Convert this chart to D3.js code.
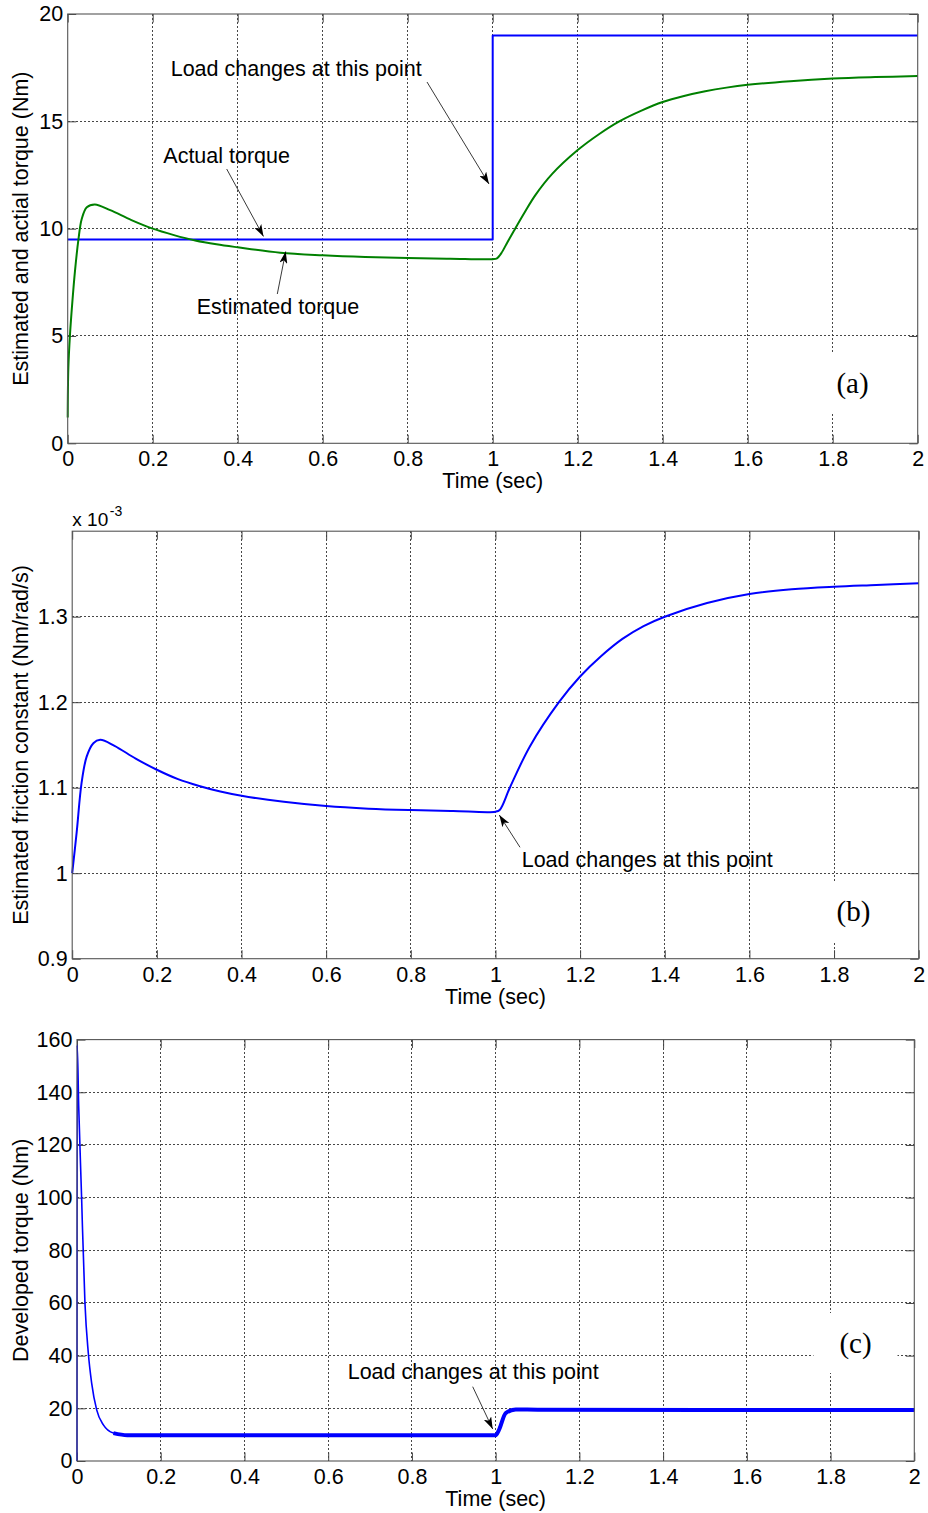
<!DOCTYPE html>
<html>
<head>
<meta charset="utf-8">
<script src="https://cdn.jsdelivr.net/npm/d3@7"></script>
<style>
  html, body { margin: 0; padding: 0; background: #fff; }
  svg { display: block; }
  text { font-family: "Liberation Sans", Arial, sans-serif; fill: #000; }
</style>
</head>
<body>
<svg id="chart" width="928" height="1513"></svg>
<script>
// ---------------- DATA ----------------
const timeTicks = [0, 0.2, 0.4, 0.6, 0.8, 1, 1.2, 1.4, 1.6, 1.8, 2];
const timeTickLabels = ["0", "0.2", "0.4", "0.6", "0.8", "1", "1.2", "1.4", "1.6", "1.8", "2"];

// Panel (a): actual (load) torque and estimated torque, Nm
const actualTime   = [0, 1, 1, 2];
const actualTorque = [9.5, 9.5, 19, 19];
const estTime   = [0, 0.0015, 0.0055, 0.011, 0.017, 0.025, 0.033, 0.045, 0.064, 0.1, 0.15, 0.2, 0.25, 0.3, 0.35, 0.4, 0.5, 0.6, 0.7, 0.8, 0.9, 1.0, 1.01, 1.02, 1.035, 1.05, 1.075, 1.1, 1.14, 1.2, 1.25, 1.3, 1.35, 1.4, 1.45, 1.5, 1.55, 1.6, 1.7, 1.8, 1.9, 2.0];
const estTorque = [1.2, 3.5, 5.1, 6.6, 8.0, 9.45, 10.45, 11.0, 11.13, 10.86, 10.4, 10.0, 9.7, 9.45, 9.27, 9.13, 8.88, 8.76, 8.68, 8.63, 8.6, 8.58, 8.62, 8.85, 9.38, 9.9, 10.75, 11.55, 12.55, 13.66, 14.40, 15.02, 15.50, 15.90, 16.18, 16.40, 16.57, 16.70, 16.87, 16.99, 17.06, 17.11];
const aYTicks = [0, 5, 10, 15, 20];
const aYTickLabels = ["0", "5", "10", "15", "20"];

// Panel (b): estimated friction constant (x 10^-3 Nm/rad/s)
const fricTime  = [0, 0.0106, 0.022, 0.034, 0.05, 0.066, 0.1, 0.15, 0.2, 0.25, 0.3, 0.35, 0.4, 0.5, 0.6, 0.7, 0.8, 0.9, 1.0, 1.01, 1.034, 1.081, 1.15, 1.2, 1.25, 1.3, 1.35, 1.4, 1.5, 1.6, 1.7, 1.8, 1.9, 2.0];
const fricValue = [1.0, 1.048, 1.105, 1.136, 1.152, 1.156, 1.149, 1.134, 1.121, 1.110, 1.102, 1.0955, 1.0905, 1.0835, 1.0785, 1.0755, 1.0738, 1.0727, 1.0719, 1.074, 1.1, 1.148, 1.2, 1.23, 1.254, 1.274, 1.289, 1.30, 1.316, 1.3265, 1.332, 1.335, 1.337, 1.339];
const bYTicks = [0.9, 1.0, 1.1, 1.2, 1.3];
const bYTickLabels = ["0.9", "1", "1.1", "1.2", "1.3"];

// Panel (c): developed torque, Nm
const devTime   = [0, 0.0005, 0.004, 0.011, 0.013, 0.019, 0.027, 0.035, 0.047, 0.063, 0.087, 0.12, 0.2, 0.5, 0.8, 1.0, 1.008, 1.024, 1.048, 1.1, 1.5, 2.0];
const devTorque = [0, 158, 135, 100, 89, 60, 41, 29.6, 19.4, 13.7, 10.6, 9.8, 9.8, 9.8, 9.8, 9.8, 11.8, 18.2, 19.6, 19.5, 19.4, 19.4];
const cYTicks = [0, 20, 40, 60, 80, 100, 120, 140, 160];
const cYTickLabels = ["0", "20", "40", "60", "80", "100", "120", "140", "160"];

const annotationText = "Load changes at this point";

// ---------------- DRAWING ----------------
const svg = d3.select("#chart");
const FS = 21.5;
const smooth = d3.curveCatmullRom.alpha(0.5);

const defs = svg.append("defs");
defs.append("marker")
  .attr("id", "arrowHead")
  .attr("markerUnits", "userSpaceOnUse")
  .attr("markerWidth", 12).attr("markerHeight", 8)
  .attr("refX", 12).attr("refY", 4)
  .attr("orient", "auto")
  .append("path")
  .attr("d", "M0,0 L12,4 L0,8 L3,4 Z")
  .attr("fill", "#000");

function zip(xs, ys) { return xs.map((t, i) => ({ t: t, v: ys[i] })); }

function drawPanel(p) {
  const g = svg.append("g");
  const x = d3.scaleLinear().domain(p.xDomain).range([p.left, p.right]);
  const y = d3.scaleLinear().domain(p.yDomain).range([p.bottom, p.top]);
  const clipId = "clip" + p.id;
  defs.append("clipPath").attr("id", clipId).append("rect")
    .attr("x", p.left - 2).attr("y", p.top - 2)
    .attr("width", p.right - p.left + 4).attr("height", p.bottom - p.top + 4);

  // grid
  const grid = g.append("g").attr("stroke", "#333").attr("stroke-width", 0.9)
    .attr("stroke-dasharray", "2,2").attr("shape-rendering", "crispEdges");
  grid.selectAll(".gx").data(p.xTicks.filter(d => d > p.xDomain[0] && d < p.xDomain[1]))
    .join("line").attr("x1", d => x(d)).attr("x2", d => x(d))
    .attr("y1", p.top).attr("y2", p.bottom);
  grid.selectAll(".gy").data(p.yTicks.filter(d => d > p.yDomain[0] && d < p.yDomain[1]))
    .join("line").attr("y1", d => y(d)).attr("y2", d => y(d))
    .attr("x1", p.left).attr("x2", p.right);

  // axes (ticks inward on all sides)
  const tk = 8.5;
  const fmtX = d => p.xTickLabels[p.xTicks.indexOf(d)];
  const fmtY = d => p.yTickLabels[p.yTicks.indexOf(d)];
  const axB = g.append("g").attr("transform", `translate(0,${p.bottom})`)
    .call(d3.axisBottom(x).tickValues(p.xTicks).tickFormat(fmtX).tickSizeInner(-tk).tickSizeOuter(0).tickPadding(7.7));
  const axT = g.append("g").attr("transform", `translate(0,${p.top})`)
    .call(d3.axisTop(x).tickValues(p.xTicks).tickFormat("").tickSizeInner(-tk).tickSizeOuter(0));
  const axL = g.append("g").attr("transform", `translate(${p.left},0)`)
    .call(d3.axisLeft(y).tickValues(p.yTicks).tickFormat(fmtY).tickSizeInner(-tk).tickSizeOuter(0).tickPadding(4.6));
  const axR = g.append("g").attr("transform", `translate(${p.right},0)`)
    .call(d3.axisRight(y).tickValues(p.yTicks).tickFormat("").tickSizeInner(-tk).tickSizeOuter(0));
  [axB, axT, axL, axR].forEach(a => {
    a.select(".domain").remove();
    a.selectAll("line").attr("stroke", "#444");
    a.selectAll("text").attr("font-size", FS).attr("font-family", "Liberation Sans, Arial, sans-serif").attr("fill", "#000");
  });

  // white panel-label box
  g.append("rect")
    .attr("x", p.labelX - 42).attr("y", p.labelY - 30)
    .attr("width", 84).attr("height", 60).attr("fill", "#fff");

  // data
  const dg = g.append("g").attr("clip-path", `url(#${clipId})`);
  p.series.forEach(s => {
    const data = zip(s.t, s.v).filter(s.filter || (() => true));
    dg.append("path").datum(data)
      .attr("fill", "none").attr("stroke", s.color)
      .attr("stroke-width", s.width).attr("stroke-linejoin", "round")
      .attr("d", d3.line().x(d => x(d.t)).y(d => y(d.v)).curve(s.curve || smooth));
  });

  // box
  g.append("rect").attr("x", p.left).attr("y", p.top)
    .attr("width", p.right - p.left).attr("height", p.bottom - p.top)
    .attr("fill", "none").attr("stroke", "#555").attr("stroke-width", 1.1);

  // panel label
  g.append("text").attr("x", p.labelX).attr("y", p.labelY + 10)
    .attr("text-anchor", "middle").attr("font-size", 29)
    .style("font-family", "'Liberation Serif', 'Times New Roman', serif")
    .text(p.label);

  // axis titles
  g.append("text").attr("x", (p.left + p.right) / 2).attr("y", p.bottom + 45)
    .attr("text-anchor", "middle").attr("font-size", FS).text("Time (sec)");
  g.append("text")
    .attr("transform", `translate(28,${(p.top + p.bottom) / 2}) rotate(-90)`)
    .attr("text-anchor", "middle").attr("font-size", FS).text(p.yTitle);

  // annotations
  p.notes.forEach(n => {
    g.append("text").attr("x", n.tx).attr("y", n.ty).attr("font-size", FS).text(n.text);
    g.append("line").attr("x1", n.x1).attr("y1", n.y1).attr("x2", n.x2).attr("y2", n.y2)
      .attr("stroke", "#222").attr("stroke-width", 0.9).attr("marker-end", "url(#arrowHead)");
  });
  return { g, x, y };
}

// Panel (a)
drawPanel({
  id: "a", left: 67.7, right: 917.7, top: 14, bottom: 443.3,
  xDomain: [0, 2], yDomain: [0, 20],
  xTicks: timeTicks, xTickLabels: timeTickLabels,
  yTicks: aYTicks, yTickLabels: aYTickLabels,
  yTitle: "Estimated and actial torque (Nm)",
  label: "(a)", labelX: 852.5, labelY: 383,
  series: [
    { t: actualTime, v: actualTorque, color: "#0000ff", width: 2, curve: d3.curveLinear },
    { t: estTime, v: estTorque, color: "#008000", width: 2 }
  ],
  notes: [
    { text: annotationText, tx: 170.7, ty: 76, x1: 427, y1: 82, x2: 489, y2: 184 },
    { text: "Actual torque", tx: 163.3, ty: 163.3, x1: 226.7, y1: 169, x2: 263.5, y2: 236.5 },
    { text: "Estimated torque", tx: 196.7, ty: 314.3, x1: 277.3, y1: 294, x2: 285.7, y2: 251.5 }
  ]
});

// Panel (b)
const pb = drawPanel({
  id: "b", left: 72.2, right: 918.7, top: 531.2, bottom: 958.7,
  xDomain: [0, 2], yDomain: [0.9, 1.4],
  xTicks: timeTicks, xTickLabels: timeTickLabels,
  yTicks: bYTicks, yTickLabels: bYTickLabels,
  yTitle: "Estimated friction constant (Nm/rad/s)",
  label: "(b)", labelX: 853.5, labelY: 911,
  series: [
    { t: fricTime, v: fricValue, color: "#0000ff", width: 2 }
  ],
  notes: [
    { text: annotationText, tx: 521.7, ty: 866.7, x1: 520, y1: 847.3, x2: 499.3, y2: 815 }
  ]
});
pb.g.append("text").attr("x", 72.3).attr("y", 526).attr("font-size", 19)
  .text("x 10")
  .append("tspan").attr("dx", 1.5).attr("dy", -10).attr("font-size", 14).text("-3");

// Panel (c)
drawPanel({
  id: "c", left: 77, right: 914.3, top: 1039.6, bottom: 1461,
  xDomain: [0, 2], yDomain: [0, 160],
  xTicks: timeTicks, xTickLabels: timeTickLabels,
  yTicks: cYTicks, yTickLabels: cYTickLabels,
  yTitle: "Developed torque (Nm)",
  label: "(c)", labelX: 855.5, labelY: 1343,
  series: [
    { t: devTime, v: devTorque, color: "#0000ff", width: 1.6, curve: d3.curveMonotoneX },
    { t: devTime, v: devTorque, color: "#0000ff", width: 4, curve: d3.curveMonotoneX, filter: d => d.t >= 0.08 }
  ],
  notes: [
    { text: annotationText, tx: 347.7, ty: 1379.3, x1: 472.7, y1: 1386.7, x2: 492.7, y2: 1429 }
  ]
});
</script>
</body>
</html>
